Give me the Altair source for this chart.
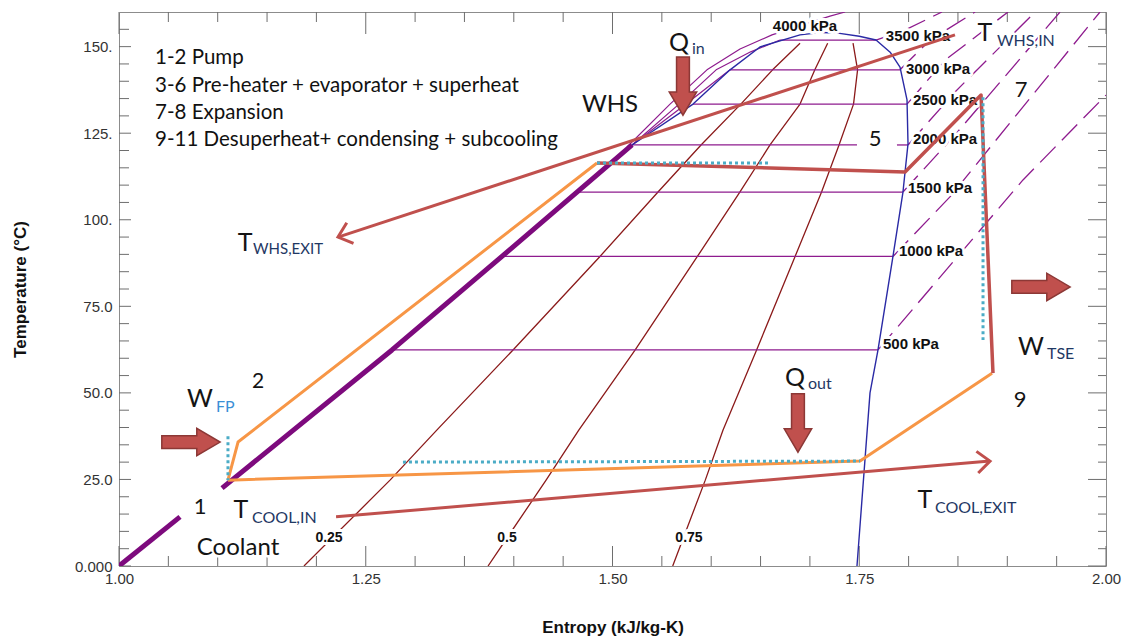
import math
import altair as alt
import pandas as pd

W, H = 987, 554
S_MIN, S_MAX, T_MIN, T_MAX = 1.0, 2.0, 0.0, 160.0

# ---------------- data ----------------
# saturation dome (upper liquid side, top and vapour side)
dome_s = [1.4640, 1.5198, 1.5816, 1.6191, 1.6494, 1.6900, 1.7120, 1.7285, 1.7500, 1.7670,
          1.7813, 1.7913, 1.7984, 1.7994, 1.7964, 1.7943, 1.7842, 1.7690, 1.7609, 1.7477]
dome_T = [107.7, 121.6, 133.4, 143.3, 149.9, 153.4, 154.1, 153.9, 153.0, 151.9,
          148.4, 144.1, 134.6, 121.9, 113.8, 108.0, 89.5, 62.4, 50.0, 0.0]

# thick compressed-liquid band (two pieces, interrupted by label "1")
liqA_s = [1.000, 1.0618]
liqA_T = [0.0, 14.2]
liqB_s = [1.1044, 1.2766, 1.3880, 1.4640, 1.5198]
liqB_T = [22.5, 62.4, 89.4, 108.0, 121.6]

# isobars inside the dome
sat_kpa = [500, 1000, 1500, 2000, 2500, 3000, 3500]
sat_T = [62.4, 89.4, 108.0, 121.6, 133.4, 143.3, 151.9]
sat_sf = [1.2766, 1.3880, 1.4640, 1.5198, 1.5816, 1.6191, 1.6697]
sat_sg = [1.7690, 1.7842, 1.7943, 1.7994, 1.7984, 1.7913, 1.7670]
gap2000 = [1.7477, 1.7882]

# superheated isobars (dashed), 500 ... 3500 kPa
sup_s = [[1.7690, 1.9159, 2.0000],
         [1.7842, 1.8419, 1.9939],
         [1.7943, 1.8470, 1.9534],
         [1.7994, 1.8470, 1.9281],
         [1.7984, 1.8369, 1.9007],
         [1.7913, 1.8217, 1.8673],
         [1.7670, 1.7964, 1.8338]]
sup_T = [[62.4, 111.5, 136.0],
         [89.4, 106.6, 160.0],
         [108.0, 124.5, 160.0],
         [121.6, 136.9, 160.0],
         [133.4, 146.1, 160.0],
         [143.3, 151.9, 160.0],
         [151.9, 154.8, 160.0]]

# liquid-side isobars fanning out near the top (4000, 3500, 3000 kPa)
fan_s = [[1.5147, 1.5583, 1.5957, 1.6292, 1.6616, 1.6950, 1.7204, 1.7356],
         [1.5198, 1.5674, 1.6050, 1.6400, 1.6697],
         [1.5198, 1.5745, 1.6191]]
fan_T = [[121.0, 133.4, 143.3, 149.3, 153.4, 156.5, 158.8, 160.0],
         [121.6, 133.4, 143.3, 148.5, 151.9],
         [121.6, 133.4, 143.3]]

# constant quality lines
q_T = [0.0, 24.8, 39.3, 62.4, 89.4, 108.0, 121.6, 133.4, 143.3, 151.0]
q25_s = [1.1874, 1.2746, 1.3222, 1.3992, 1.4873, 1.5461, 1.5897, 1.6300, 1.6622, 1.6900]
q50_s = [1.3739, 1.4327, 1.4660, 1.5230, 1.5860, 1.6290, 1.6596, 1.6900, 1.7050, 1.7180]
q75_s = [1.5610, 1.5940, 1.6120, 1.6460, 1.6850, 1.7118, 1.7295, 1.7442, 1.7483, 1.7437]

# cycle
orange_s = [[1.1104, 1.1206, 1.4843], [1.1104, 1.7508, 1.8845]]
orange_T = [[24.8, 35.8, 116.4], [24.8, 30.3, 55.7]]
proc_s = [1.4843, 1.7964, 1.8734, 1.8855]
proc_T = [116.4, 113.8, 136.0, 55.7]
cyan_s = [[1.1104, 1.1104], [1.4843, 1.6576], [1.2877, 1.7508], [1.8754, 1.8754]]
cyan_T = [[37.5, 24.8], [116.4, 116.4], [30.0, 30.3], [135.4, 65.3]]

# heat-source / coolant temperature arrows (start, end = arrow tip)
tarr_s = [[1.8470, 1.2219], [1.2199, 1.8825]]
tarr_T = [[153.4, 95.0], [14.2, 30.3]]

# block arrows (centre, direction in degrees)
blk_s = [1.5714, 1.6879, 1.0729, 1.9341]
blk_T = [138.6, 41.3, 35.8, 80.6]
blk_ang = [90, 90, 0, 0]

# text
list_txt = ["1-2 Pump", "3-6 Pre-heater + evaporator + superheat", "7-8 Expansion",
            "9-11 Desuperheat+ condensing + subcooling"]
list_s = [1.0365] * 4
list_T = [146.7, 138.6, 130.8, 123.0]

big_txt = ["WHS", "Q", "Q", "T", "T", "T", "T", "W", "W", "Coolant", "5", "7", "1", "2", "9"]
big_s = [1.4975, 1.5674, 1.6849, 1.8774, 1.1277, 1.1236, 1.8166, 1.0821, 1.9240, 1.1206,
         1.7660, 1.9139, 1.0821, 1.1408, 1.9129]
big_T = [133.1, 151.0, 54.3, 153.9, 93.3, 16.2, 19.1, 48.2, 63.2, 5.2,
         123.3, 137.5, 17.0, 53.1, 47.9]
big_fs = [24, 25, 25, 25, 25, 25, 25, 25, 25, 24, 22, 22, 22, 21, 22]

# subscripts, left edge positions
sub_txt = ["in", "out", "WHS,IN", "WHS,EXIT", "COOL,IN", "COOL,EXIT", "FP", "TSE"]
sub_s = [1.5805, 1.6981, 1.8896, 1.1358, 1.1348, 1.8267, 1.0983, 1.9402]
sub_T = [149.3, 52.6, 151.6, 91.6, 13.9, 16.8, 45.9, 61.2]
sub_fs = [16, 16, 16, 15, 16, 16, 16, 16]
sub_col = ["#1f3864", "#1f3864", "#1f3864", "#1f3864", "#1f3864", "#1f3864", "#3b8fd6", "#1f3864"]

kpa_txt = ["4000 kPa", "3500 kPa", "3000 kPa", "2500 kPa", "2000 kPa", "1500 kPa", "1000 kPa", "500 kPa"]
kpa_s = [1.6950, 1.8095, 1.8298, 1.8369, 1.8369, 1.8318, 1.8227, 1.8024]
kpa_T = [156.0, 153.1, 143.5, 134.6, 123.3, 109.2, 91.0, 64.1]

qual_txt = ["0.25", "0.5", "0.75"]
qual_s = [1.2128, 1.3931, 1.5775]
qual_T = [8.1, 8.1, 8.1]

x_major = [1.0, 1.25, 1.5, 1.75, 2.0]
x_minor = [round(1 + 0.05 * i, 2) for i in range(1, 20) if i % 5]
y_major = [0, 25, 50, 75, 100, 125, 150]
y_minor = [5 * i for i in range(1, 32) if i % 5]

# ---------------- scales / axes ----------------
xs = alt.Scale(domain=[S_MIN, S_MAX], nice=False, zero=False)
ys = alt.Scale(domain=[T_MIN, T_MAX], nice=False, zero=False)

x_axis = alt.Axis(values=x_major, format=".2f", ticks=False, domain=False, grid=False,
                  labelFont="Liberation Sans", labelFontSize=15, labelColor="#333333",
                  labelPadding=5, labelFlush=False, labelOverlap=False,
                  titleFont="Liberation Sans", titleFontSize=17, titleFontWeight="bold",
                  titleColor="#111111", titlePadding=33)
y_axis = alt.Axis(values=y_major, ticks=False, domain=False, grid=False,
                  labelExpr="datum.value == 0 ? '0.000' : (datum.value >= 100 ? format(datum.value, '.0f') + '.' : format(datum.value, '.1f'))",
                  labelFont="Liberation Sans", labelFontSize=15, labelColor="#333333",
                  labelPadding=7, labelFlush=False, labelOverlap=False,
                  titleFont="Liberation Sans", titleFontSize=17, titleFontWeight="bold",
                  titleColor="#111111", titlePadding=45)


def X(f="s"):
    return alt.X(f"{f}:Q", scale=xs, axis=x_axis, title="Entropy (kJ/kg-K)")


def Y(f="T"):
    return alt.Y(f"{f}:Q", scale=ys, axis=y_axis, title="Temperature (°C)")


def path_df(groups):
    rows = []
    for gid, (ss, tt) in enumerate(groups):
        for i, (a, b) in enumerate(zip(ss, tt)):
            rows.append({"id": gid, "i": i, "s": a, "T": b})
    return pd.DataFrame(rows)


def lines(groups, color, width, dash=None):
    kw = dict(color=color, strokeWidth=width, clip=True, strokeCap="butt", strokeJoin="round")
    if dash:
        kw["strokeDash"] = dash
    return alt.Chart(path_df(groups)).mark_line(**kw).encode(
        x=X(), y=Y(), detail="id:N", order="i:Q")


def texts(txt, ss, tt, fs, cols, font, weight="normal", align="center", halo=6):
    """returns (halo layer or None, text layer)"""
    df = pd.DataFrame({"text": txt, "s": ss, "T": tt, "fs": fs, "col": cols})
    enc = dict(x=X(), y=Y(), text="text:N",
               size=alt.Size("fs:Q", scale=None, legend=None),
               color=alt.Color("col:N", scale=None, legend=None))
    h = None
    if halo:
        h = alt.Chart(df).mark_text(font=font, fontWeight=weight, align=align, baseline="middle",
                                    stroke="white", strokeWidth=halo, strokeJoin="round").encode(**enc)
    t = alt.Chart(df).mark_text(font=font, fontWeight=weight, align=align,
                                baseline="middle").encode(**enc)
    return h, t


def tick_layer(vals, axis, length):
    df = pd.DataFrame({"v": vals})
    m = alt.Chart(df).mark_rule(color="#6e6e6e", strokeWidth=1)
    if axis == "bottom":
        return m.encode(x=X("v"), y=alt.value(H), y2=alt.value(H - length))
    if axis == "top":
        return m.encode(x=X("v"), y=alt.value(0), y2=alt.value(length))
    if axis == "left":
        return m.encode(y=Y("v"), x=alt.value(0), x2=alt.value(length))
    return m.encode(y=Y("v"), x=alt.value(W), x2=alt.value(W - length))


def screen_angle(s0, t0, s1, t1):
    dx = (s1 - s0) / (S_MAX - S_MIN) * W
    dy = -(t1 - t0) / (T_MAX - T_MIN) * H
    return math.degrees(math.atan2(dy, dx)) % 360


layers = []
# ticks (inside the frame)
layers += [tick_layer(x_major, "bottom", 20), tick_layer(x_minor, "bottom", 10),
           tick_layer(x_major, "top", 22), tick_layer(x_minor, "top", 10),
           tick_layer(y_major, "left", 12), tick_layer(y_minor, "left", 10),
           tick_layer(y_major, "right", 18), tick_layer(y_minor, "right", 8)]

# quality lines
layers.append(lines([(q25_s, q_T), (q50_s, q_T), (q75_s, q_T)], "#8b1a1a", 1.3))

# isobars
iso_groups = []
for k, t, a, b in zip(sat_kpa, sat_T, sat_sf, sat_sg):
    if k == 2000:
        iso_groups.append(([a, gap2000[0]], [t, t]))
        iso_groups.append(([gap2000[1], b], [t, t]))
    else:
        iso_groups.append(([a, b], [t, t]))
layers.append(lines(iso_groups, "#8e1b8e", 1.3))
layers.append(lines(list(zip(fan_s, fan_T)), "#8e1b8e", 1.2))
layers.append(lines(list(zip(sup_s, sup_T)), "#8e1b8e", 1.3, dash=[22, 9]))

# dome
layers.append(lines([(dome_s, dome_T)], "#2a2aa5", 1.4))
# thick liquid band
layers.append(lines([(liqA_s, liqA_T), (liqB_s, liqB_T)], "#7d0a7d", 5))

# labels: all white halos first, then the texts
text_specs = [
    texts(kpa_txt, kpa_s, kpa_T, [15] * len(kpa_txt), ["#111111"] * len(kpa_txt),
          "Liberation Sans", weight="bold"),
    texts(qual_txt, qual_s, qual_T, [14] * 3, ["#111111"] * 3, "Liberation Sans", weight="bold"),
    texts(list_txt, list_s, list_T, [20.5] * 4, ["#111111"] * 4, "Lato", align="left", halo=0),
    texts(sub_txt, sub_s, sub_T, sub_fs, sub_col, "Lato", align="left", halo=4),
    texts(big_txt, big_s, big_T, big_fs, ["#141414"] * len(big_txt), "Lato", halo=5),
]
layers += [h for h, _ in text_specs if h is not None]
layers += [t for _, t in text_specs]

# cycle
layers.append(lines(list(zip(orange_s, orange_T)), "#f79646", 3))
layers.append(lines([(proc_s, proc_T)], "#c0504d", 3.5))
layers.append(lines(list(zip(cyan_s, cyan_T)), "#4bacc6", 3, dash=[3, 3]))

# temperature arrows
layers.append(lines(list(zip(tarr_s, tarr_T)), "#c0504d", 3))
head_df = pd.DataFrame({
    "s": [g[1] for g in tarr_s],
    "T": [g[1] for g in tarr_T],
    "ang": [screen_angle(ss[0], tt[0], ss[1], tt[1]) for ss, tt in zip(tarr_s, tarr_T)],
})
layers.append(alt.Chart(head_df).mark_point(
    shape="M -1 -0.85 L 0 0 L -1 0.85", filled=False, stroke="#c0504d", strokeWidth=3,
    opacity=1, size=650, strokeJoin="miter").encode(
    x=X(), y=Y(), angle=alt.Angle("ang:Q", scale=None)))

# block arrows
blk_df = pd.DataFrame({"s": blk_s, "T": blk_T, "ang": blk_ang})
layers.append(alt.Chart(blk_df).mark_point(
    shape="M -1 -0.22 L 0.2 -0.22 L 0.2 -0.47 L 1 0 L 0.2 0.47 L 0.2 0.22 L -1 0.22 Z",
    filled=True, fill="#c0504d", fillOpacity=1, stroke="#8c3836", strokeWidth=1.5,
    opacity=1, size=3400).encode(
    x=X(), y=Y(), angle=alt.Angle("ang:Q", scale=None)))

chart = alt.layer(*layers).properties(
    width=W, height=H,
    padding={"left": 111, "top": 4, "right": 19, "bottom": 72},
    autosize=alt.AutoSizeParams(type="none"),
    background="white",
).configure_view(stroke="#8c8c8c", strokeWidth=1)

chart.save("out.html", embed_options={"renderer": "svg", "actions": False})
